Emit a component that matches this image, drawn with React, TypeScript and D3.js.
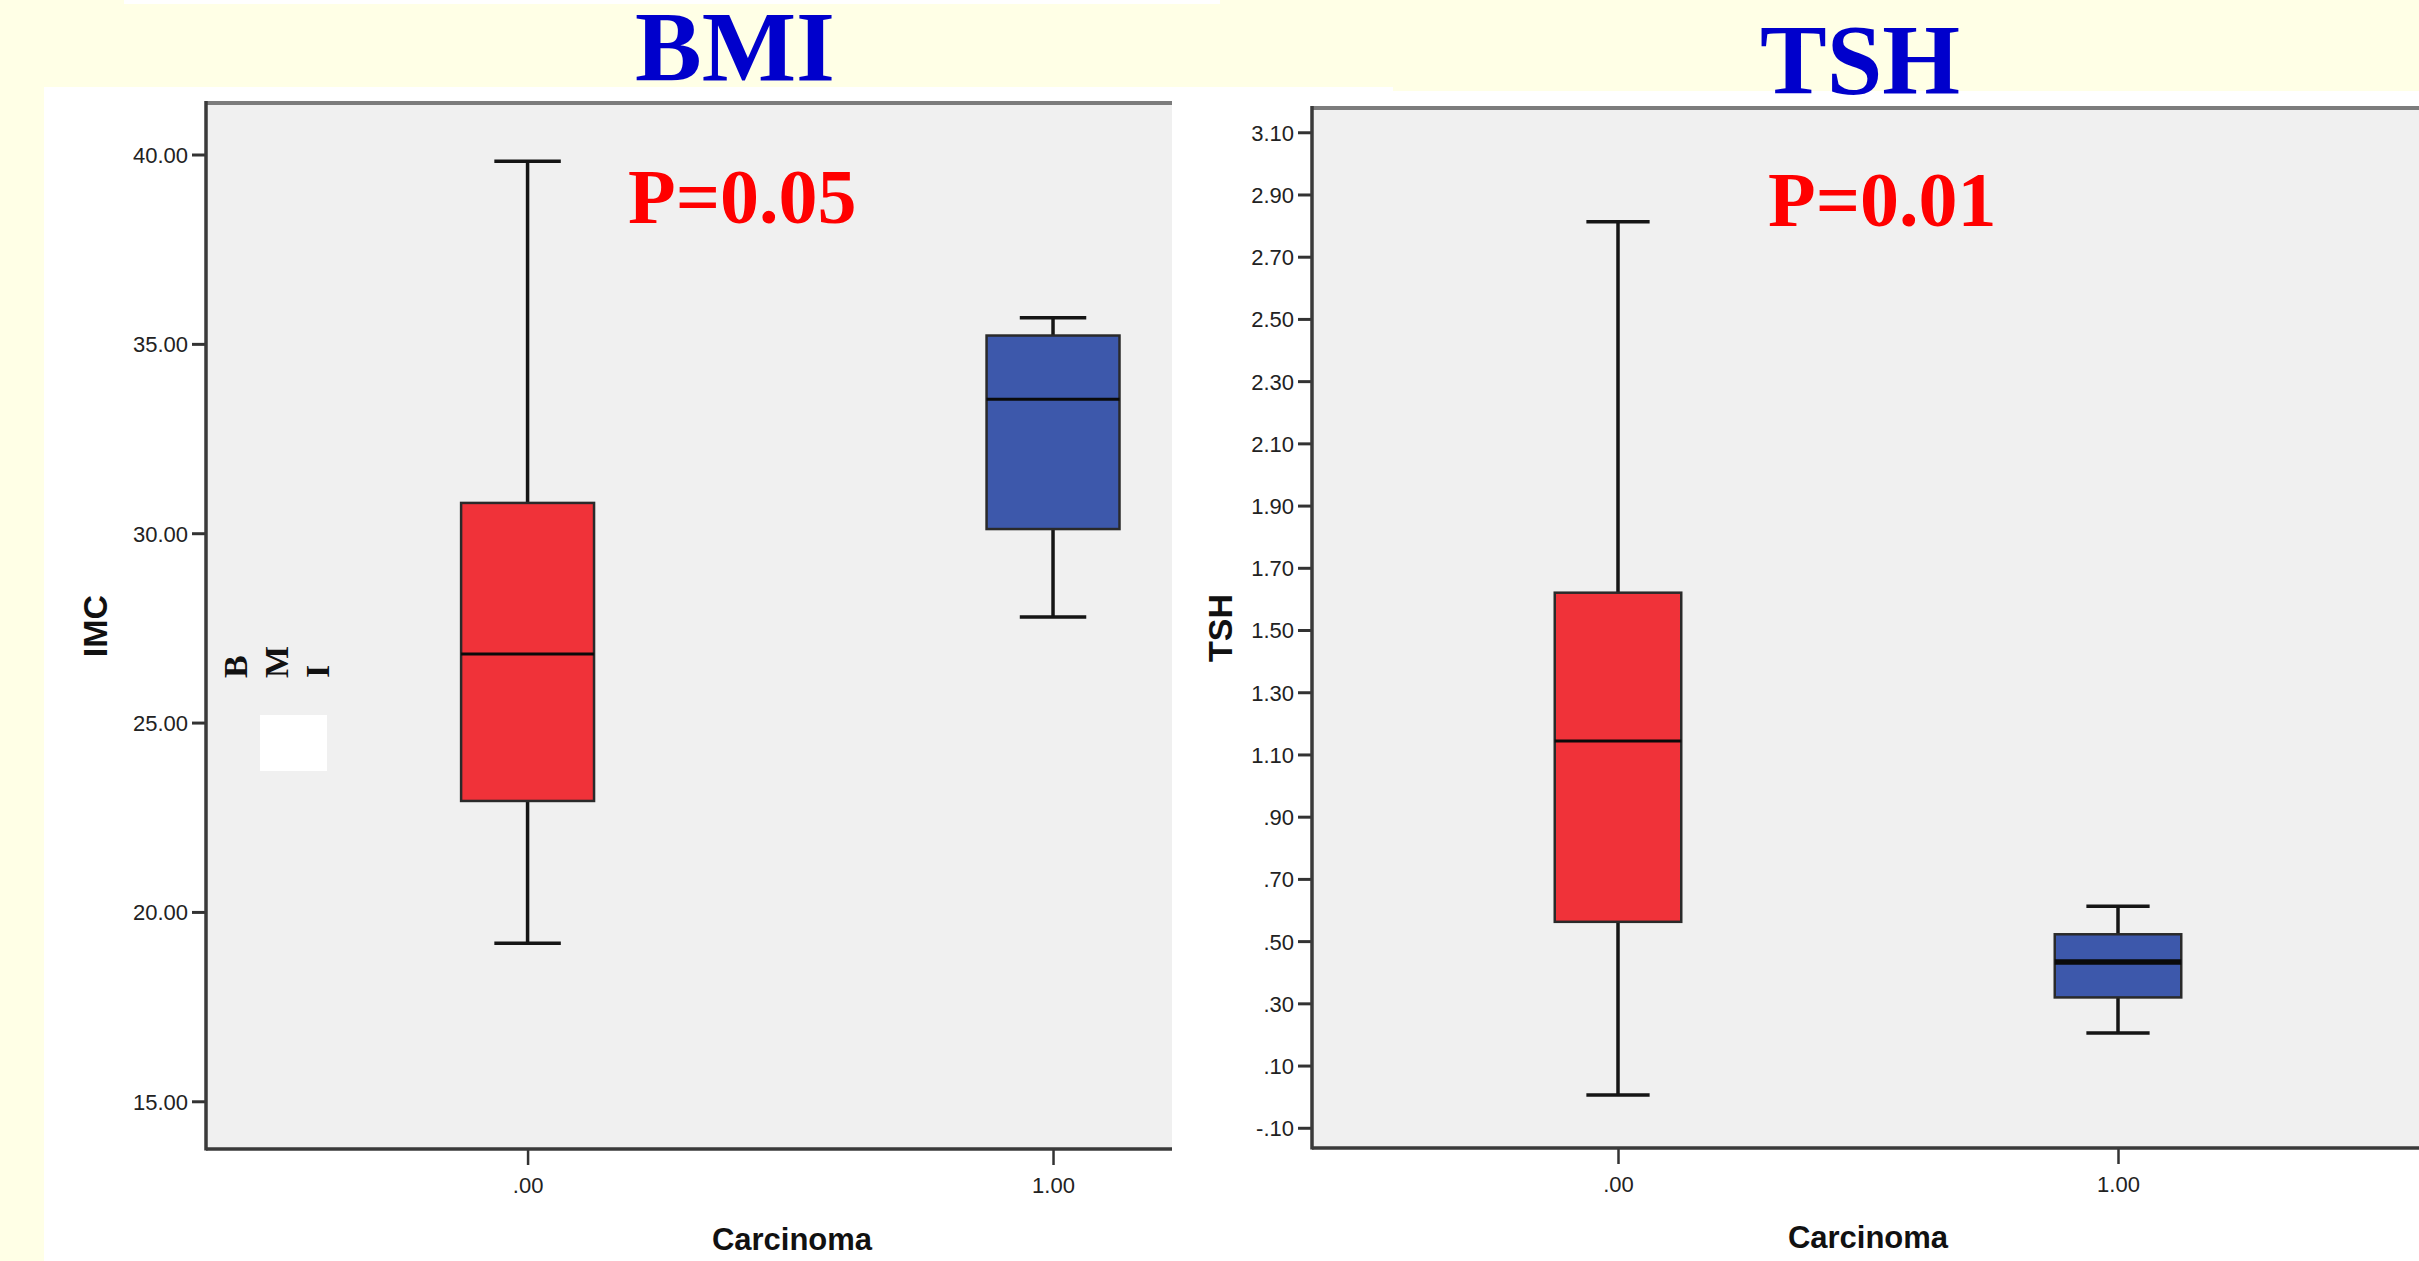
import React, { useEffect, useRef } from "react";
import * as d3 from "d3";

// two SPSS style boxplots, BMI and TSH by Carcinoma group
const categories = [".00", "1.00"];
const boxColors = ["#f03239", "#3d58ab"];

const bmiLow = [19.17, 27.79];
const bmiQ1 = [22.93, 30.11];
const bmiMedian = [26.81, 33.54];
const bmiQ3 = [30.8, 35.22];
const bmiHigh = [39.82, 35.69];
const bmiTicks = [15, 20, 25, 30, 35, 40];

const tshLow = [0.005, 0.205];
const tshQ1 = [0.562, 0.319];
const tshMedian = [1.143, 0.433];
const tshQ3 = [1.62, 0.522];
const tshHigh = [2.812, 0.612];
const tshTicks = [-0.1, 0.1, 0.3, 0.5, 0.7, 0.9, 1.1, 1.3, 1.5, 1.7, 1.9, 2.1, 2.3, 2.5, 2.7, 2.9, 3.1];

const W = 2419, H = 1261;
const sans = "'Liberation Sans', Arial, sans-serif";
const serif = "'Liberation Serif', 'Times New Roman', serif";

const fmtBmi = (d) => d.toFixed(2);
// SPSS drops the leading zero: .10, -.10, 1.10
const fmtTsh = (d) => (d < 0 ? "-" : "") + Math.abs(d).toFixed(2).replace(/^0\./, ".");

const panels = [
  {
    left: 206, top: 103, right: 1172, bottom: 1149, xEnd: 1374.6,
    yDomain: [13.74, 41.36], ticks: bmiTicks, fmt: fmtBmi,
    low: bmiLow, q1: bmiQ1, med: bmiMedian, q3: bmiQ3, high: bmiHigh,
    medianWidth: [3, 3],
    title: "BMI", titleX: 735, titleY: 80,
    pText: "P=0.05", pX: 628, pY: 223,
    yLabel: "IMC", yLabelX: 107, yLabelY: 626,
    xLabelX: 792, xLabelY: 1250,
  },
  {
    left: 1312, top: 108, right: W, bottom: 1148, xEnd: 2424,
    yDomain: [-0.165, 3.178], ticks: tshTicks, fmt: fmtTsh,
    low: tshLow, q1: tshQ1, med: tshMedian, q3: tshQ3, high: tshHigh,
    medianWidth: [3, 5.5],
    title: "TSH", titleX: 1860, titleY: 93,
    pText: "P=0.01", pX: 1768, pY: 226,
    yLabel: "TSH", yLabelX: 1232, yLabelY: 628,
    xLabelX: 1868, xLabelY: 1248,
  },
];

function drawPanel(svg, p, idx) {
  const x = d3.scalePoint().domain(categories).range([p.left, p.xEnd]).padding(0.612);
  const y = d3.scaleLinear().domain(p.yDomain).range([p.bottom, p.top]);
  const boxW = x.step() * 0.253;

  const g = svg.append("g");
  g.append("clipPath").attr("id", "clip" + idx)
    .append("rect").attr("x", p.left).attr("y", 0).attr("width", p.right - p.left).attr("height", H);

  g.append("rect")
    .attr("x", p.left).attr("y", p.top)
    .attr("width", p.right - p.left).attr("height", p.bottom - p.top)
    .attr("fill", "#f0f0f0");
  g.append("line")
    .attr("x1", p.left).attr("x2", p.right).attr("y1", p.top).attr("y2", p.top)
    .attr("stroke", "#7c7c7c").attr("stroke-width", 4);

  const marks = g.append("g").attr("clip-path", "url(#clip" + idx + ")");
  categories.forEach((c, i) => {
    const cx = x(c);
    const b = marks.append("g");
    b.append("line").attr("x1", cx).attr("x2", cx)
      .attr("y1", y(p.high[i])).attr("y2", y(p.q3[i]))
      .attr("stroke", "#151515").attr("stroke-width", 3.5);
    b.append("line").attr("x1", cx).attr("x2", cx)
      .attr("y1", y(p.q1[i])).attr("y2", y(p.low[i]))
      .attr("stroke", "#151515").attr("stroke-width", 3.5);
    [p.high[i], p.low[i]].forEach(v => {
      b.append("line").attr("x1", cx - boxW / 4).attr("x2", cx + boxW / 4)
        .attr("y1", y(v)).attr("y2", y(v))
        .attr("stroke", "#151515").attr("stroke-width", 3.5);
    });
    b.append("rect")
      .attr("x", cx - boxW / 2).attr("y", y(p.q3[i]))
      .attr("width", boxW).attr("height", y(p.q1[i]) - y(p.q3[i]))
      .attr("fill", boxColors[i]).attr("stroke", "#2a2a2a").attr("stroke-width", 2.5);
    b.append("line").attr("x1", cx - boxW / 2).attr("x2", cx + boxW / 2)
      .attr("y1", y(p.med[i])).attr("y2", y(p.med[i]))
      .attr("stroke", "#0a0a0a").attr("stroke-width", p.medianWidth[i]);
  });

  // axes
  const yg = g.append("g").attr("transform", "translate(" + p.left + ",0)")
    .call(d3.axisLeft(y).tickValues(p.ticks).tickSize(14).tickPadding(4).tickFormat(p.fmt));
  yg.select(".domain").remove();
  yg.attr("font-size", 22).attr("font-family", sans).attr("color", "#333");
  yg.selectAll(".tick line").attr("stroke-width", 3);
  yg.selectAll(".tick text").attr("fill", "#222").attr("dy", "0.36em");

  const xg = g.append("g").attr("transform", "translate(0," + p.bottom + ")")
    .call(d3.axisBottom(x).tickSize(16).tickPadding(12));
  xg.select(".domain").remove();
  xg.attr("font-size", 22).attr("font-family", sans).attr("color", "#333");
  xg.selectAll(".tick line").attr("stroke-width", 2.5);
  xg.selectAll(".tick text").attr("fill", "#222");

  g.append("line").attr("x1", p.left).attr("x2", p.left)
    .attr("y1", p.top - 2).attr("y2", p.bottom + 1.5)
    .attr("stroke", "#3a3a3a").attr("stroke-width", 3.5);
  g.append("line").attr("x1", p.left).attr("x2", p.right)
    .attr("y1", p.bottom).attr("y2", p.bottom)
    .attr("stroke", "#3a3a3a").attr("stroke-width", 3.5);

  // texts
  svg.append("text").attr("x", p.titleX).attr("y", p.titleY)
    .attr("text-anchor", "middle").attr("font-family", serif).attr("font-weight", "bold")
    .attr("font-size", 100).attr("fill", "#0000cc").text(p.title);
  svg.append("text").attr("x", p.pX).attr("y", p.pY)
    .attr("font-family", serif).attr("font-weight", "bold")
    .attr("font-size", 78).attr("fill", "#ff0000").text(p.pText);
  svg.append("text")
    .attr("transform", "translate(" + p.yLabelX + "," + p.yLabelY + ") rotate(-90)")
    .attr("text-anchor", "middle").attr("font-family", sans).attr("font-weight", "bold")
    .attr("font-size", 34).attr("fill", "#111").text(p.yLabel);
  svg.append("text").attr("x", p.xLabelX).attr("y", p.xLabelY)
    .attr("text-anchor", "middle").attr("font-family", sans).attr("font-weight", "bold")
    .attr("font-size", 31).attr("fill", "#111").text("Carcinoma");
}

export default function App() {
  const ref = useRef(null);

  useEffect(() => {
    const svg = d3.select(ref.current);
    svg.selectAll("*").remove();

    svg.append("rect").attr("width", W).attr("height", H).attr("fill", "#ffffe6");
    svg.append("rect").attr("x", 124).attr("y", 0).attr("width", 1096).attr("height", 4).attr("fill", "#ffffff");
    svg.append("rect").attr("x", 44).attr("y", 87).attr("width", W - 44).attr("height", H - 87).attr("fill", "#ffffff");
    svg.append("rect").attr("x", 1393).attr("y", 87).attr("width", W - 1393).attr("height", 4).attr("fill", "#ffffe6");

    panels.forEach((p, i) => drawPanel(svg, p, i));

    // stray rotated letters and white patch inside the BMI plot
    const letters = [["B", 247], ["M", 288], ["I", 329]];
    letters.forEach(([t, lx]) => {
      svg.append("text")
        .attr("transform", "translate(" + lx + ",678) rotate(-90)")
        .attr("font-family", serif).attr("font-weight", "bold")
        .attr("font-size", 34).attr("fill", "#111").text(t);
    });
    svg.append("rect").attr("x", 260).attr("y", 715).attr("width", 67).attr("height", 56).attr("fill", "#ffffff");
  }, []);

  return (
    <svg ref={ref} width={W} height={H}
      style={{ position: "absolute", left: 0, top: 0, display: "block" }} />
  );
}
